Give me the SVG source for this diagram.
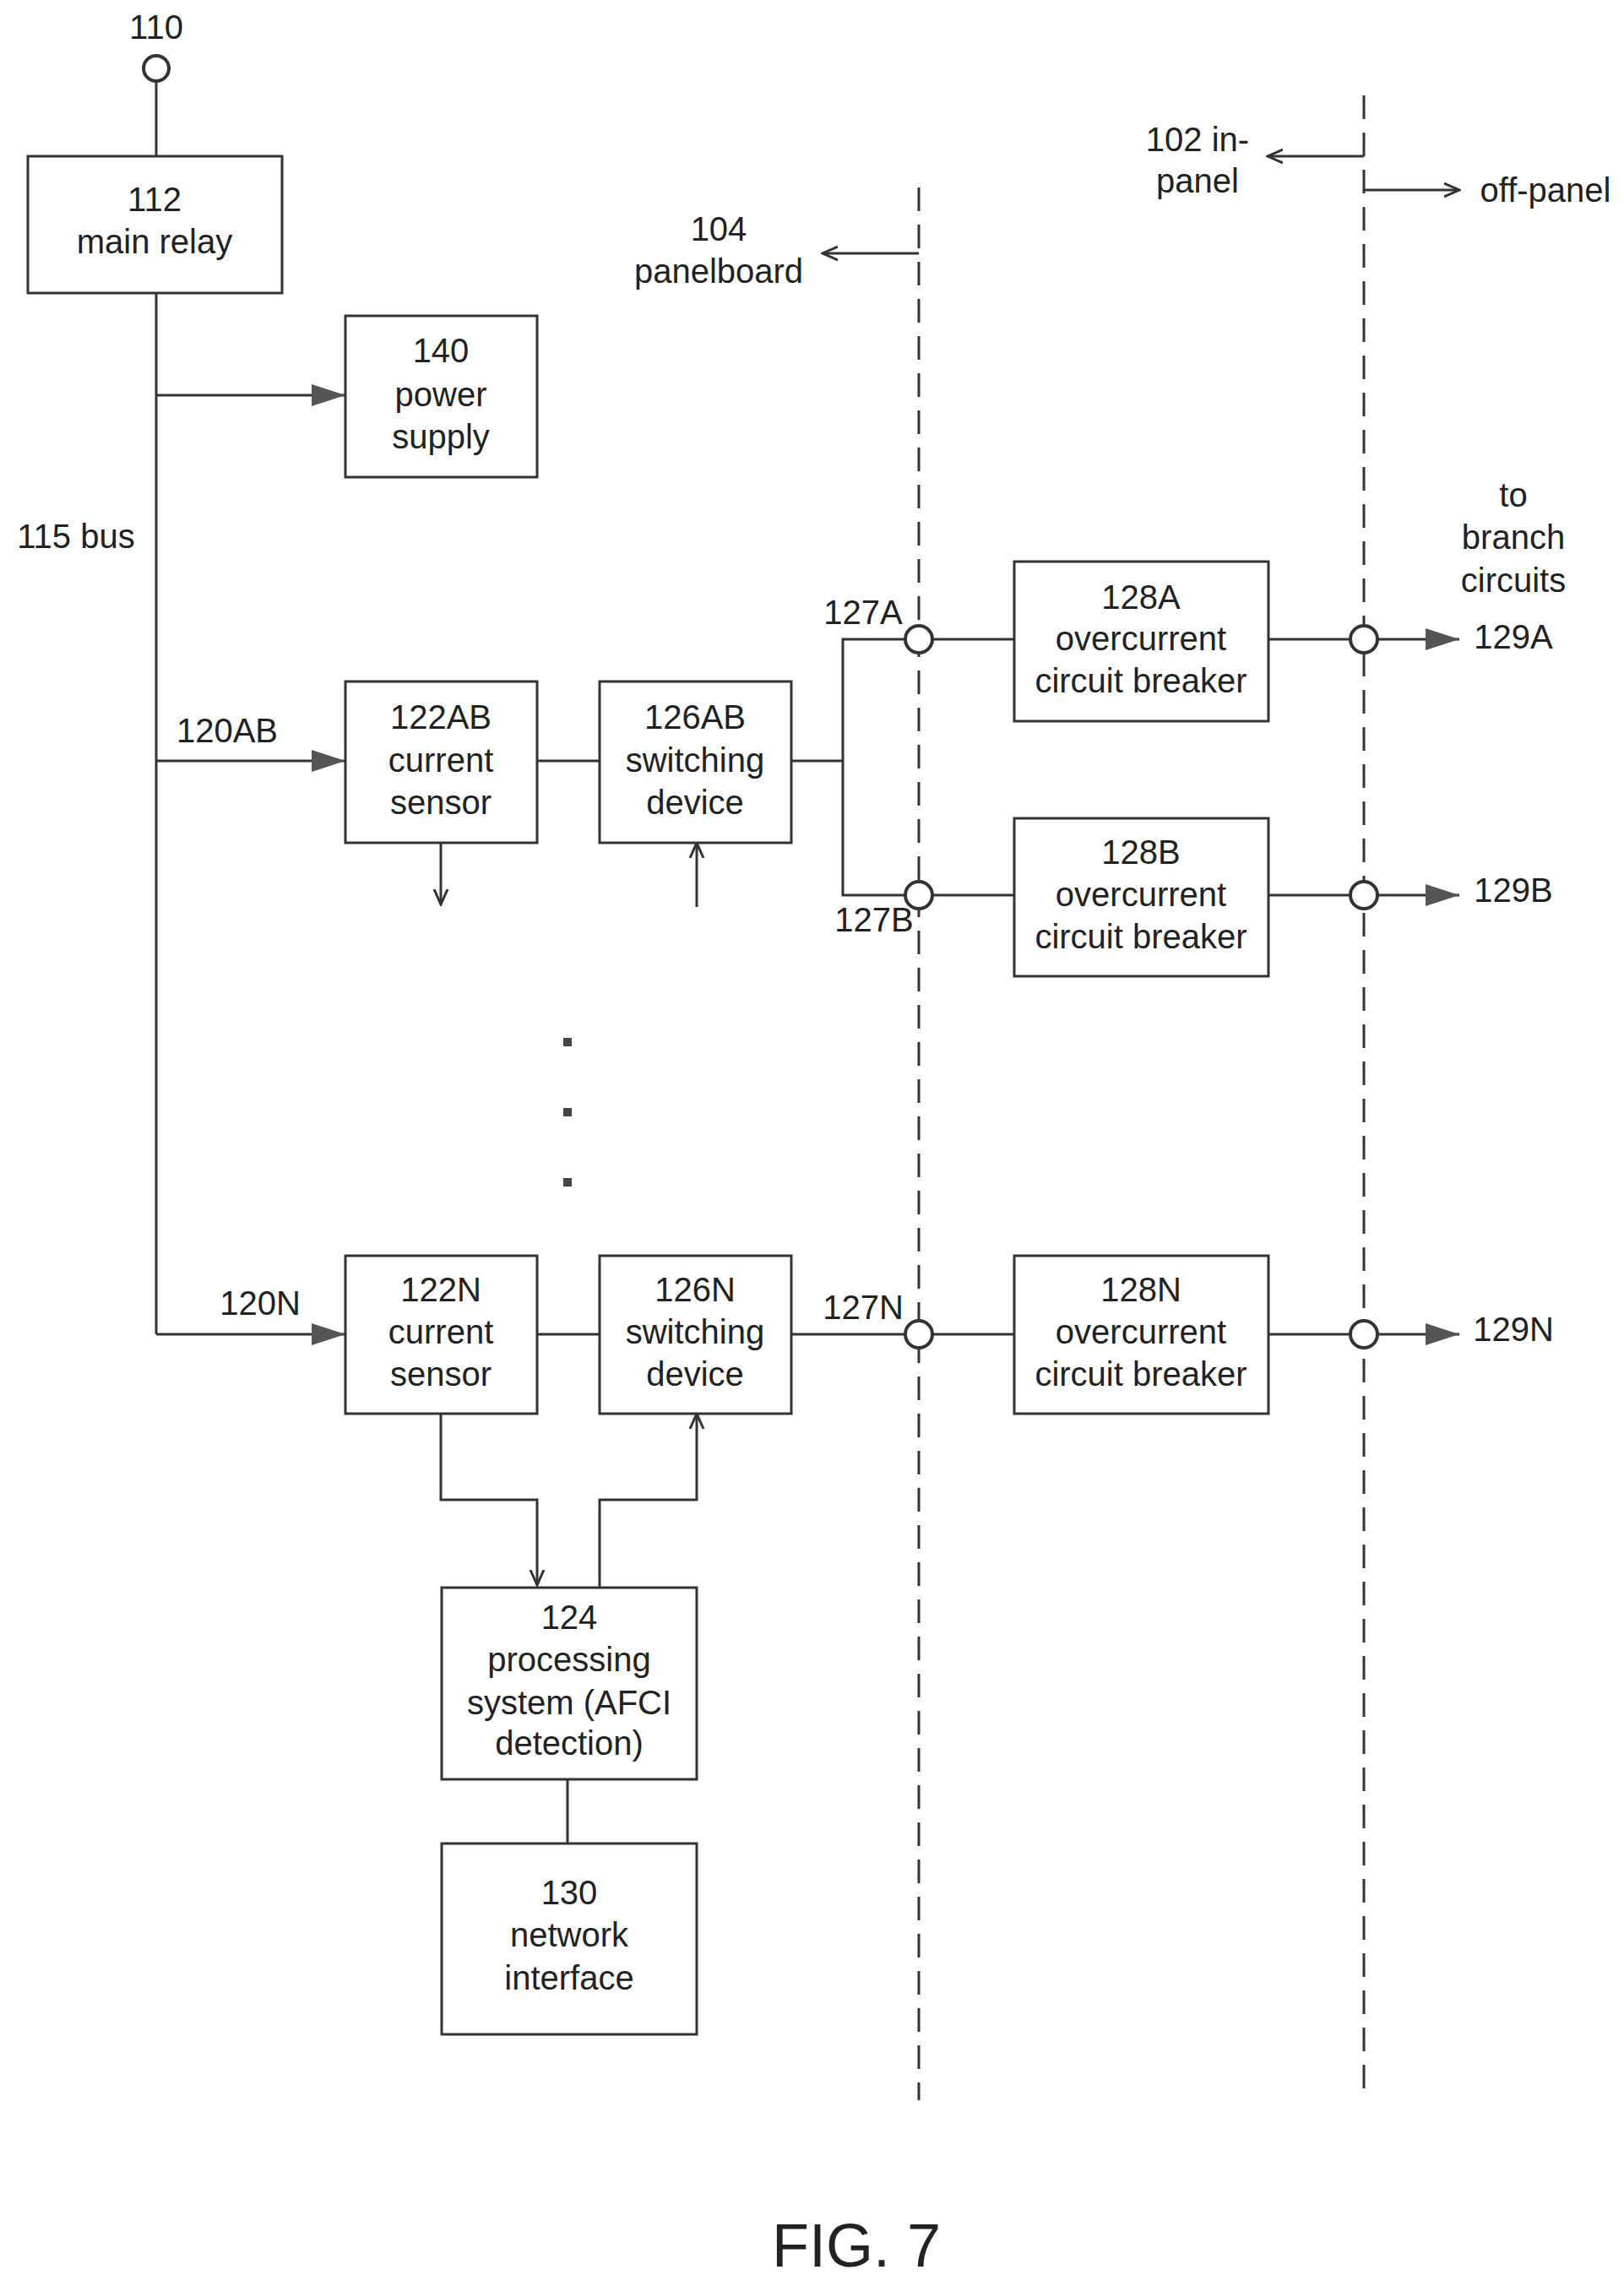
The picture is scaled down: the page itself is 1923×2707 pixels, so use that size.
<svg xmlns="http://www.w3.org/2000/svg" width="1923" height="2707" viewBox="0 0 1923 2707">
<style>
.b{fill:#fff;stroke:#333;stroke-width:3}
.l{fill:none;stroke:#333;stroke-width:3}
.d{fill:none;stroke:#333;stroke-width:3;stroke-dasharray:28 16}
.c{fill:#fff;stroke:#333;stroke-width:4}
text{font-family:"Liberation Sans",Arial,sans-serif;font-size:40px;fill:#222;text-anchor:middle;dominant-baseline:middle}
</style>
<defs>
<marker id="big" markerWidth="40" markerHeight="26" refX="40" refY="13" orient="auto" markerUnits="userSpaceOnUse"><path d="M0,0 L40,13 L0,26 Z" fill="#555"/></marker>
<marker id="sm" markerWidth="20" markerHeight="20" refX="18" refY="10" orient="auto" markerUnits="userSpaceOnUse"><path d="M0,2 L18,10 L0,18" fill="none" stroke="#333" stroke-width="3"/></marker>
</defs>
<rect width="1923" height="2707" fill="#fff"/>
<g id="connectors">
<line class="l" x1="185" y1="96" x2="185" y2="185"/>
<line class="l" x1="185" y1="347" x2="185" y2="1580"/>
<line class="l" x1="185" y1="468" x2="409" y2="468" marker-end="url(#big)"/>
<line class="l" x1="185" y1="901" x2="409" y2="901" marker-end="url(#big)"/>
<line class="l" x1="185" y1="1580" x2="409" y2="1580" marker-end="url(#big)"/>
<line class="l" x1="636" y1="901" x2="710" y2="901"/>
<line class="l" x1="636" y1="1580" x2="710" y2="1580"/>
<line class="l" x1="937" y1="901" x2="998" y2="901"/>
<polyline class="l" points="1071,757 998,757 998,1060 1071,1060"/>
<line class="l" x1="937" y1="1580" x2="1071" y2="1580"/>
<line class="l" x1="1105" y1="757" x2="1201" y2="757"/>
<line class="l" x1="1105" y1="1060" x2="1201" y2="1060"/>
<line class="l" x1="1105" y1="1580" x2="1201" y2="1580"/>
<line class="l" x1="1502" y1="757" x2="1598" y2="757"/>
<line class="l" x1="1502" y1="1060" x2="1598" y2="1060"/>
<line class="l" x1="1502" y1="1580" x2="1598" y2="1580"/>
<line class="l" x1="1632" y1="757" x2="1728" y2="757" marker-end="url(#big)"/>
<line class="l" x1="1632" y1="1060" x2="1728" y2="1060" marker-end="url(#big)"/>
<line class="l" x1="1632" y1="1580" x2="1728" y2="1580" marker-end="url(#big)"/>
<line class="l" x1="522" y1="998" x2="522" y2="1071" marker-end="url(#sm)"/>
<line class="l" x1="825" y1="1074" x2="825" y2="998" marker-end="url(#sm)"/>
<polyline class="l" points="522,1674 522,1776 636,1776 636,1877" marker-end="url(#sm)"/>
<polyline class="l" points="710,1880 710,1776 825,1776 825,1674" marker-end="url(#sm)"/>
<line class="l" x1="672" y1="2107" x2="672" y2="2183"/>
<line class="d" x1="1088" y1="222" x2="1088" y2="2487"/>
<line class="d" x1="1615" y1="113" x2="1615" y2="2487"/>
<line class="l" x1="1088" y1="300" x2="974" y2="300" marker-end="url(#sm)"/>
<line class="l" x1="1615" y1="185" x2="1501" y2="185" marker-end="url(#sm)"/>
<line class="l" x1="1615" y1="225" x2="1728" y2="225" marker-end="url(#sm)"/>
<circle class="c" cx="1088" cy="757" r="16"/>
<circle class="c" cx="1088" cy="1060" r="16"/>
<circle class="c" cx="1088" cy="1580" r="16"/>
<circle class="c" cx="1615" cy="757" r="16"/>
<circle class="c" cx="1615" cy="1060" r="16"/>
<circle class="c" cx="1615" cy="1580" r="16"/>
</g>
<g id="n110"><circle class="c" cx="185" cy="81" r="15"/><text x="185" y="35">110</text></g>
<g id="n112"><rect class="b" x="33" y="185" width="301" height="162"/><text x="183" y="239">112</text><text x="183" y="289">main relay</text></g>
<g id="n140"><rect class="b" x="409" y="374" width="227" height="191"/><text x="522" y="418">140</text><text x="522" y="470">power</text><text x="522" y="520">supply</text></g>
<g id="n122AB"><rect class="b" x="409" y="807" width="227" height="191"/><text x="522" y="852">122AB</text><text x="522" y="903">current</text><text x="522" y="953">sensor</text></g>
<g id="n126AB"><rect class="b" x="710" y="807" width="227" height="191"/><text x="823" y="852">126AB</text><text x="823" y="903">switching</text><text x="823" y="953">device</text></g>
<g id="n128A"><rect class="b" x="1201" y="665" width="301" height="189"/><text x="1351" y="710">128A</text><text x="1351" y="759">overcurrent</text><text x="1351" y="809">circuit breaker</text></g>
<g id="n128B"><rect class="b" x="1201" y="969" width="301" height="187"/><text x="1351" y="1012">128B</text><text x="1351" y="1062">overcurrent</text><text x="1351" y="1112">circuit breaker</text></g>
<g id="n122N"><rect class="b" x="409" y="1487" width="227" height="187"/><text x="522" y="1530">122N</text><text x="522" y="1580">current</text><text x="522" y="1630">sensor</text></g>
<g id="n126N"><rect class="b" x="710" y="1487" width="227" height="187"/><text x="823" y="1530">126N</text><text x="823" y="1580">switching</text><text x="823" y="1630">device</text></g>
<g id="n128N"><rect class="b" x="1201" y="1487" width="301" height="187"/><text x="1351" y="1530">128N</text><text x="1351" y="1580">overcurrent</text><text x="1351" y="1630">circuit breaker</text></g>
<g id="n124"><rect class="b" x="523" y="1880" width="302" height="227"/><text x="674" y="1918">124</text><text x="674" y="1968">processing</text><text x="674" y="2019">system (AFCI</text><text x="674" y="2067">detection)</text></g>
<g id="n130"><rect class="b" x="523" y="2183" width="302" height="226"/><text x="674" y="2244">130</text><text x="674" y="2294">network</text><text x="674" y="2345">interface</text></g>
<g id="labels">
<text x="90" y="638">115 bus</text>
<text x="269" y="868">120AB</text>
<text x="308" y="1546">120N</text>
<text x="1022" y="728">127A</text>
<text x="1035" y="1092">127B</text>
<text x="1022" y="1551">127N</text>
<text x="1792" y="757">129A</text>
<text x="1792" y="1057">129B</text>
<text x="1792" y="1577">129N</text>
<text x="1792" y="589">to</text><text x="1792" y="639">branch</text><text x="1792" y="690">circuits</text>
<text x="851" y="274">104</text><text x="851" y="324">panelboard</text>
<text x="1418" y="168">102 in-</text><text x="1418" y="217">panel</text>
<text x="1830" y="228">off-panel</text>
<rect x="667" y="1229" width="10" height="10" fill="#444"/><rect x="667" y="1312" width="10" height="10" fill="#444"/><rect x="667" y="1395" width="10" height="10" fill="#444"/>
<text x="1014" y="2665" style="font-size:72px">FIG. 7</text>
</g>
</svg>
